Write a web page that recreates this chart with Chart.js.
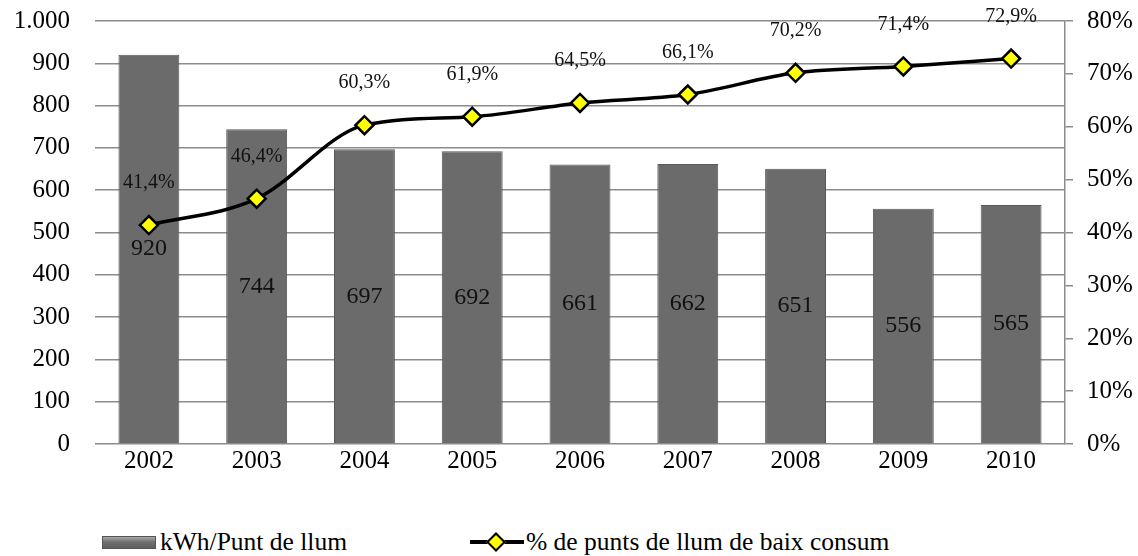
<!DOCTYPE html>
<html>
<head>
<meta charset="utf-8">
<script src="https://cdn.jsdelivr.net/npm/chart.js@4.4.1/dist/chart.umd.min.js"></script>
<style>
  html, body { margin: 0; padding: 0; background: #fff; overflow: hidden; }
  #wrap { position: relative; width: 1138px; height: 556px; overflow: hidden; }
  #chartBox { position: absolute; left: 0; top: -19px; width: 1138px; height: 503px; }
  .legend { position: absolute; top: 527px; font-family: "Times New Roman", "Liberation Serif", Tinos, "Noto Serif", "DejaVu Serif", serif; font-size: 25.5px; line-height: 30px; color: #000; display: flex; align-items: center; white-space: nowrap; }
  .swBar { width: 52px; height: 11px; background: linear-gradient(#a8a8a8, #707070 45%, #5e5e5e); border: 1px solid #555; margin-right: 4px; }
  .swLine { position: relative; width: 54px; height: 20px; margin-right: 2px; }
  .swLine .ln { position: absolute; left: 0; right: 0; top: 8px; height: 4px; background: #000; }
  .swLine .dm { position: absolute; left: 19px; top: 3px; width: 10px; height: 10px; background: #ffff00; border: 2px solid #000; transform: rotate(45deg); }
</style>
</head>
<body>
<div id="wrap">
  <div id="chartBox"><canvas id="chart"></canvas></div>
  <div class="legend" style="left:102px"><span class="swBar"></span>kWh/Punt de llum</div>
  <div class="legend" style="left:470px"><span class="swLine"><span class="ln"></span><span class="dm"></span></span>% de punts de llum de baix consum</div>
</div>
<script>
const years = ['2002', '2003', '2004', '2005', '2006', '2007', '2008', '2009', '2010'];
const kwhPerPoint = [920, 744, 697, 692, 661, 662, 651, 556, 565];
const lowConsumptionPct = [41.4, 46.4, 60.3, 61.9, 64.5, 66.1, 70.2, 71.4, 72.9];
const barLabel = 'kWh/Punt de llum';
const lineLabel = '% de punts de llum de baix consum';

const serif = '"Times New Roman", "Liberation Serif", Tinos, "Noto Serif", "DejaVu Serif", serif';

const valueLabels = {
  id: 'valueLabels',
  afterDatasetsDraw(chart) {
    const { ctx } = chart;
    ctx.save();
    ctx.textAlign = 'center';
    ctx.textBaseline = 'middle';
    ctx.fillStyle = '#111';

    const bars = chart.getDatasetMeta(1).data;
    ctx.font = '24px ' + serif;
    bars.forEach((b, i) => {
      const y = (b.y + b.base) / 2;
      ctx.fillText(String(kwhPerPoint[i]), b.x, y);
    });

    const pts = chart.getDatasetMeta(0).data;
    ctx.font = '20px ' + serif;
    pts.forEach((p, i) => {
      ctx.fillText(lowConsumptionPct[i].toFixed(1).replace('.', ',') + '%', p.x, p.y - 42);
    });
    ctx.restore();
  }
};

new Chart(document.getElementById('chart'), {
  type: 'bar',
  data: {
    labels: years,
    datasets: [
      {
        type: 'line',
        label: lineLabel,
        data: lowConsumptionPct,
        yAxisID: 'y1',
        order: 0,
        borderColor: '#000',
        borderWidth: 3.5,
        cubicInterpolationMode: 'monotone',
        pointStyle: 'rectRot',
        pointRadius: 9,
        pointHoverRadius: 9,
        pointBackgroundColor: '#ffff00',
        pointBorderColor: '#000',
        pointBorderWidth: 2.5,
        fill: false
      },
      {
        type: 'bar',
        label: barLabel,
        data: kwhPerPoint,
        yAxisID: 'y',
        order: 1,
        backgroundColor: '#6b6b6b',
        borderColor: '#585858',
        borderWidth: 1,
        categoryPercentage: 1,
        barPercentage: 0.565
      }
    ]
  },
  options: {
    responsive: true,
    maintainAspectRatio: false,
    animation: false,
    layout: { padding: { top: 4, left: 0, right: 0, bottom: 0 } },
    plugins: {
      legend: { display: false },
      tooltip: { enabled: false }
    },
    scales: {
      x: {
        grid: { display: false, drawTicks: false },
        border: { display: false },
        ticks: { color: '#000', font: { family: serif, size: 25 }, padding: 2 }
      },
      y: {
        position: 'left',
        min: 0, max: 1000,
        afterFit: s => { s.width = 95; },
        grid: { color: '#8c8c8c', lineWidth: 1.5, drawTicks: false },
        border: { display: false },
        ticks: {
          stepSize: 100, color: '#000', padding: 25,
          font: { family: serif, size: 25 },
          callback: v => v >= 1000 ? '1.000' : String(v)
        }
      },
      y1: {
        position: 'right',
        min: 0, max: 80,
        afterFit: s => { s.width = 73; },
        grid: { drawOnChartArea: false, color: '#8c8c8c', tickLength: 8, lineWidth: 1.5 },
        border: { display: true, color: '#8c8c8c', width: 1.5 },
        ticks: {
          stepSize: 10, color: '#000', padding: 14,
          font: { family: serif, size: 25 },
          callback: v => v + '%'
        }
      }
    }
  },
  plugins: [valueLabels]
});
</script>
</body>
</html>
